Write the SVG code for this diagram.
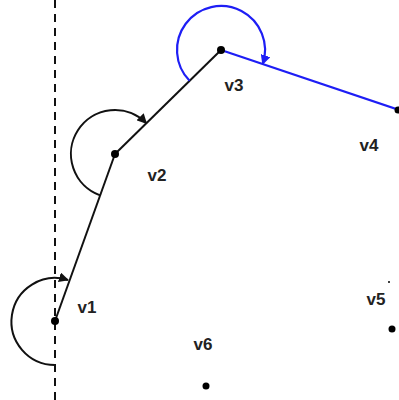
<svg xmlns="http://www.w3.org/2000/svg" width="399" height="400" viewBox="0 0 399 400">
  <style>
    .edge { stroke: #111; stroke-width: 2; fill: none; }
    .blue { stroke: #1e1ef5; stroke-width: 2.2; fill: none; }
    .dot { fill: #000; }
    .lbl { font-family: "Liberation Sans", Arial, sans-serif; font-weight: bold; font-size: 17px; fill: #222; text-anchor: middle; }
  </style>
  <defs>
    <marker id="ahk" viewBox="0 0 10 10" refX="9" refY="5" markerWidth="10" markerHeight="10" markerUnits="userSpaceOnUse" orient="auto">
      <path d="M0,0 L10,5 L0,10 Z" fill="#111"/>
    </marker>
    <marker id="ahb" viewBox="0 0 10 10" refX="9" refY="5" markerWidth="10" markerHeight="10" markerUnits="userSpaceOnUse" orient="auto">
      <path d="M0,0 L10,5 L0,10 Z" fill="#1e1ef5"/>
    </marker>
  </defs>
  <rect width="399" height="400" fill="#fff"/>
  <g id="connectors">
    <line x1="55" y1="0" x2="55" y2="400" stroke="#111" stroke-width="2" stroke-dasharray="8,6"/>
    <line class="edge" x1="55" y1="321" x2="115" y2="154"/>
    <line class="edge" x1="115" y1="154" x2="221" y2="50"/>
    <line class="blue" x1="221" y1="50" x2="399" y2="110"/>
    <path class="edge" d="M55,365 A43.5,43.5 0 1 1 68,280" marker-end="url(#ahk)"/>
    <path class="edge" d="M100.1,195.4 A44,44 0 1 1 146.4,123.2" marker-end="url(#ahk)"/>
    <path class="blue" d="M189.6,80.8 A44,44 0 1 1 262.7,64.1" marker-end="url(#ahb)"/>
  </g>
  <g id="v1"><circle class="dot" cx="55" cy="321" r="4"/><text class="lbl" x="87" y="313">v1</text></g>
  <g id="v2"><circle class="dot" cx="115" cy="154" r="4"/><text class="lbl" x="157" y="181">v2</text></g>
  <g id="v3"><circle class="dot" cx="221" cy="50" r="4"/><text class="lbl" x="234" y="91">v3</text></g>
  <g id="v4"><circle class="dot" cx="398" cy="110" r="3.5"/><text class="lbl" x="369" y="151">v4</text></g>
  <g id="v5"><circle class="dot" cx="389" cy="282" r="1"/><circle class="dot" cx="392" cy="329" r="3.5"/><text class="lbl" x="376" y="305">v5</text></g>
  <g id="v6"><circle class="dot" cx="206" cy="386" r="3.5"/><text class="lbl" x="203" y="350">v6</text></g>
</svg>
